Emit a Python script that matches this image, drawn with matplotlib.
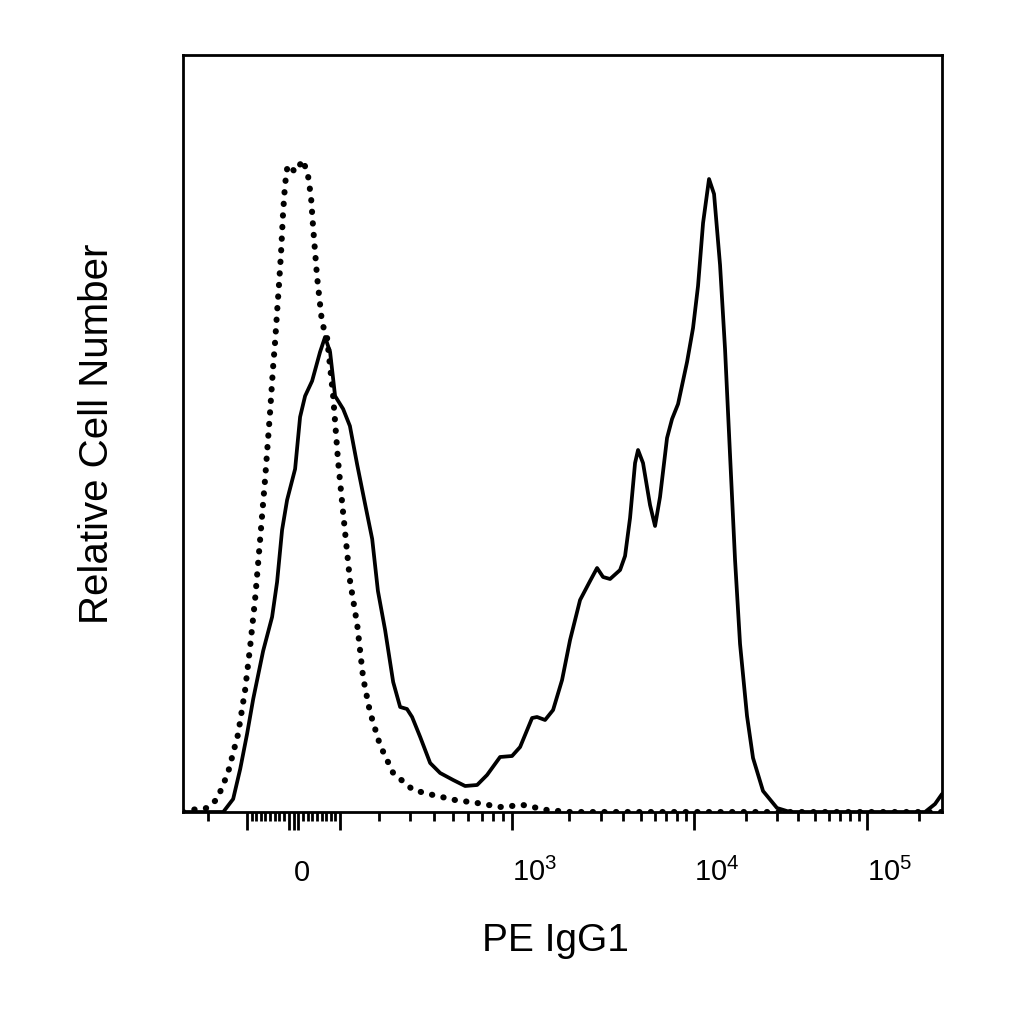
import numpy as np
import matplotlib
matplotlib.use("Agg")
import matplotlib.pyplot as plt
from matplotlib.ticker import FixedLocator, FixedFormatter, NullFormatter

plt.rcParams['font.family'] = ['Liberation Sans', 'DejaVu Sans']
plt.rcParams['mathtext.fontset'] = 'custom'
plt.rcParams['mathtext.rm'] = 'Liberation Sans'
plt.rcParams['mathtext.it'] = 'Liberation Sans:italic'
plt.rcParams['mathtext.bf'] = 'Liberation Sans:bold'

# ---- data (PE fluorescence, relative cell count) ----
stained_x = [-280, -159, -134, -117, -101, -87, -65, -45.6, -34.9, -24.3, -13.7, 3.2, 13.7, 24.3,
             39.2, 56.3, 67.2, 78.3, 89.5, 108, 124, 142, 162, 181, 197, 218, 243, 266, 290, 309,
             341, 384, 432, 503, 578, 665, 747, 871, 1004, 1106, 1278, 1357, 1497, 1652, 1846,
             2039, 2311, 2621, 2864, 3090, 3379, 3841, 4095, 4367, 4659, 4842, 5164, 5656, 6037,
             6441, 7058, 7536, 8153, 9173, 9924, 10597, 11323, 12250, 13089, 14168, 15133, 16169,
             17278, 18460, 20247, 21928, 25043, 30160, 35864, 217500, 248650, 273000]
stained_y = [0, 0, 13, 43, 78, 113, 161, 195, 230, 282, 312, 343, 395, 416,
             431, 460, 475, 460, 416, 403, 386, 347, 308, 273, 221, 182, 130, 105, 103, 95,
             75, 49, 39, 32, 26, 27, 37, 55, 56, 65, 94, 95, 92, 102, 132,
             172, 212, 231, 244, 235, 233, 242, 256, 294, 349, 362, 349, 307, 286,
             315, 374, 393, 408, 450, 484, 526, 589, 633, 618, 547, 463, 357,
             252, 168, 96, 54, 21, 4, 0, 0, 8, 18]

control_x = [-280, -256, -203, -175, -147, -122, -105.5, -94, -82.7, -71.7,
             -60.7, -49.9, -43.4, -39.2, -34.9, -30.6, -26.4, -22.1, -17.9, -13.7,
             -10.5, 3.2, 20.0, 30.6, 36.9, 41.3, 49.9, 60.7, 71.7, 85.1,
             96.3, 108, 124, 142, 157, 175, 203, 243, 313, 397,
             514, 665, 871, 1146, 1534, 2039, 2975, 273000]
control_y = [0, 2, 4, 13, 39, 78, 122, 165, 213, 272,
             333, 400, 445, 470, 500, 529, 560, 600, 628, 643,
             647, 640, 652, 636, 615, 585, 535, 489, 474, 416,
             351, 299, 232, 187, 134, 100, 67, 39, 22, 17,
             12, 9, 5, 7, 2, 0, 0, 0]

major_ticks = [-100, -10, 0, 10, 100, 1000, 10000, 100000]
major_labels = ['', '', '0', '', '', r'$\mathregular{10^{3}}$', r'$\mathregular{10^{4}}$',
                r'$\mathregular{10^{5}}$']
minor_ticks = ([-200, -90, -80, -70, -60, -50, -40, -30, -20,
                20, 30, 40, 50, 60, 70, 80, 90,
                200, 300, 400, 500, 600, 700, 800, 900,
                2000, 3000, 4000, 5000, 6000, 7000, 8000, 9000,
                20000, 30000, 40000, 50000, 60000, 70000, 80000, 90000, 200000])
x_range = (-280, 273000)
y_range = (0, 757)

# ---- logicle (biexponential) display scale ----
LA = 46.3   # data units per display unit scale
LP = 2.4    # logicle p parameter


def _to_data(u):
    u = np.asarray(u, dtype=float)
    au = np.abs(u)
    v = LA * (10 ** au - LP ** 2 * 10 ** (-au / LP) + LP ** 2 - 1)
    return np.sign(u) * v


_ugrid = np.linspace(-2.0, 6.0, 40001)
_sgrid = _to_data(_ugrid)


def _to_display(x):
    return np.interp(np.asarray(x, dtype=float), _sgrid, _ugrid)


fig = plt.figure(figsize=(10.24, 10.24), dpi=100)
ax = fig.add_axes([183 / 1024, (1024 - 812) / 1024, 759 / 1024, 757 / 1024])
ax.set_xscale('function', functions=(_to_display, _to_data))

ax.plot(control_x, control_y, color='black', lw=4.4, linestyle=(0, (0.05, 1.85)),
        dash_capstyle='round', zorder=3)
ax.plot(stained_x, stained_y, color='black', lw=2.7, solid_joinstyle='round',
        solid_capstyle='round', zorder=4)

ax.set_xlim(*x_range)
ax.set_ylim(*y_range)

ax.xaxis.set_major_locator(FixedLocator(major_ticks))
ax.xaxis.set_major_formatter(FixedFormatter(major_labels))
ax.xaxis.set_minor_locator(FixedLocator(minor_ticks))
ax.xaxis.set_minor_formatter(NullFormatter())
ax.set_yticks([])

ax.tick_params(axis='x', which='major', direction='out', length=13, width=2.0,
               labelsize=21, pad=37, top=False)
ax.tick_params(axis='x', which='minor', direction='out', length=6.5, width=2.0, top=False)
for t in ax.xaxis.get_major_ticks():
    t.label1.set_verticalalignment('baseline')
    t.label1.set_horizontalalignment('left')

for s in ax.spines.values():
    s.set_linewidth(2.0)
    s.set_color('black')

ax.set_xlabel('PE IgG1', fontsize=28)
ax.xaxis.set_label_coords((555 - 183) / 759, (812 - 923) / 757)
ax.set_ylabel('Relative Cell Number', fontsize=29)
ax.yaxis.set_label_coords((116 - 183) / 759, 0.5)

fig.savefig('out.png', dpi=100)
